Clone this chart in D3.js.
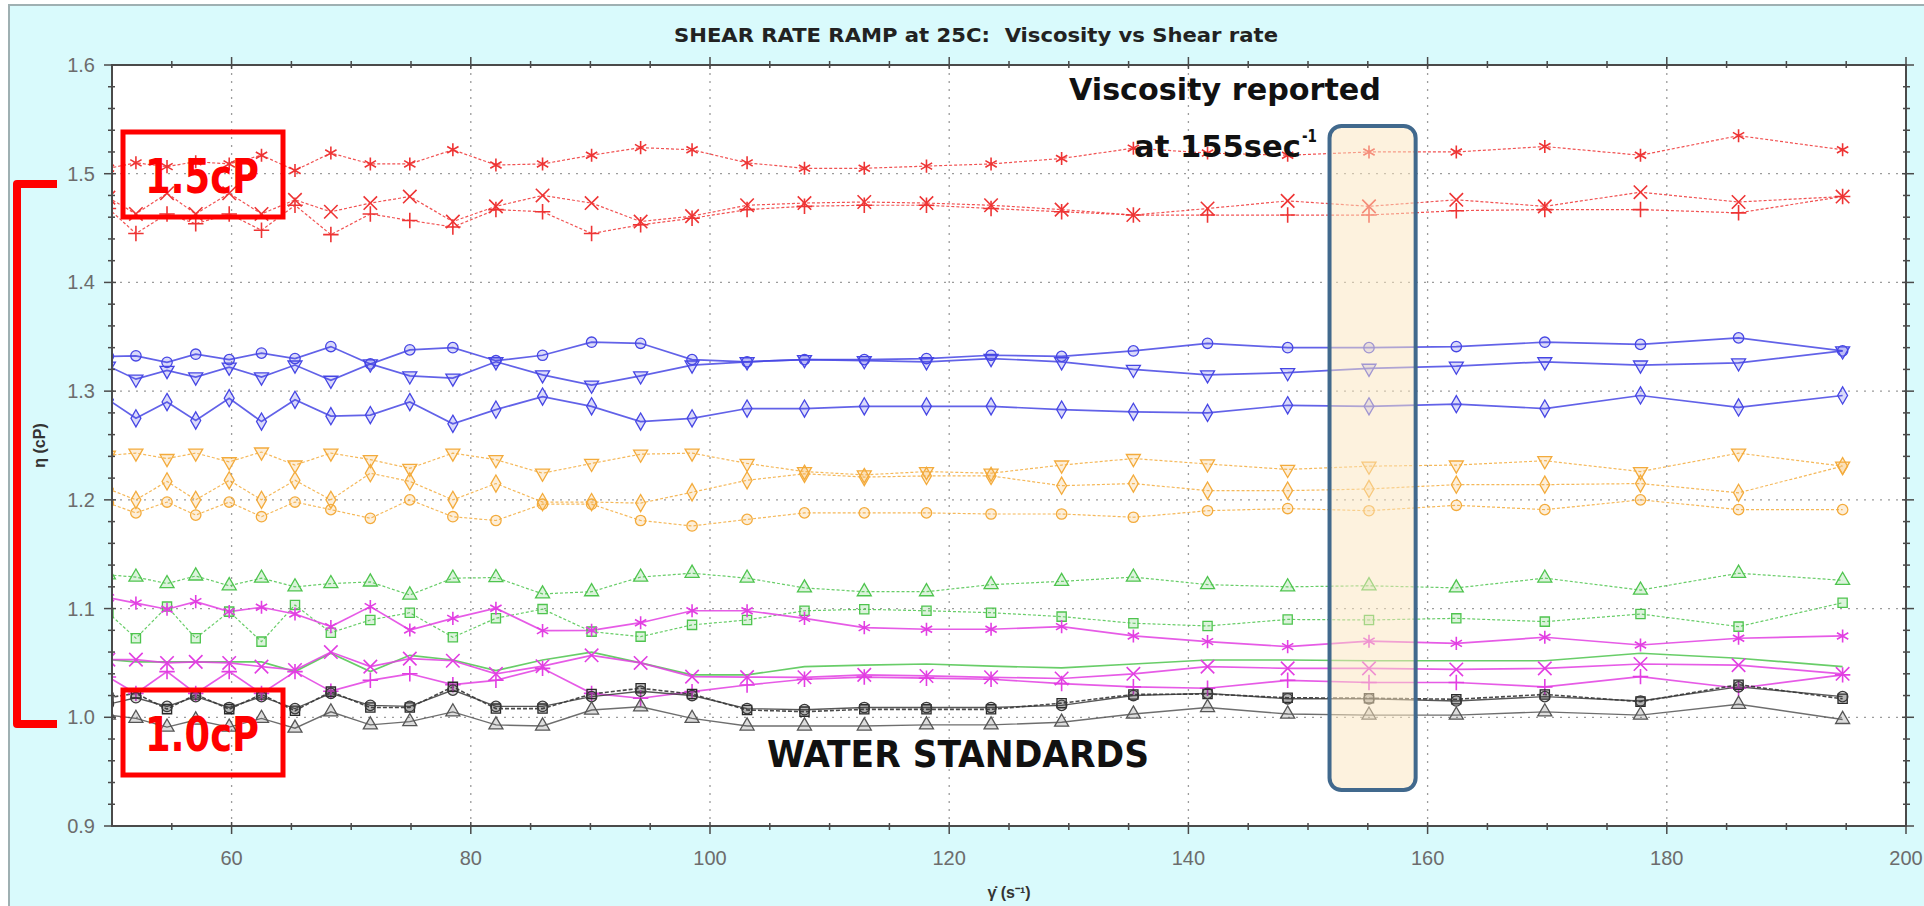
<!DOCTYPE html>
<html>
<head>
<meta charset="utf-8">
<title>Shear rate ramp at 25C</title>
<script src="https://cdn.jsdelivr.net/npm/d3@7"></script>
<style>
body { margin: 0; background: #fff; }
.tick-label { font: 20px "Liberation Sans", Arial, sans-serif; fill: #6c6c6c; }
.axis-title { font: bold 16px "Liberation Sans", Arial, sans-serif; fill: #333; }
.note { font-family: "Liberation Sans Narrow", "DejaVu Sans Condensed", "Liberation Sans", sans-serif; font-weight: bold; white-space: pre; }
</style>
</head>
<body>
<script>
// shear rate (1/s) of each measured point, the first one sits just left of the axis
var shearRate = [49.7, 52.0, 54.6, 57.0, 59.8, 62.5, 65.3, 68.3, 71.6, 74.9, 78.5, 82.1, 86.0, 90.1, 94.2, 98.5,
  103.1, 107.9, 112.9, 118.1, 123.5, 129.4, 135.4, 141.6, 148.3, 155.1, 162.4, 169.8, 177.8, 186.0, 194.7];

// viscosity (cP)
var redStar = [1.505, 1.510, 1.5065, 1.511, 1.509, 1.517, 1.503, 1.519, 1.509, 1.509, 1.522, 1.508, 1.509, 1.517, 1.524, 1.522,
  1.510, 1.505, 1.505, 1.507, 1.509, 1.514, 1.5235, 1.519, 1.517, 1.520, 1.520, 1.525, 1.517, 1.535, 1.522];
var redX = [1.478, 1.463, 1.482, 1.463, 1.482, 1.463, 1.476, 1.465, 1.473, 1.479, 1.456, 1.470, 1.480, 1.473, 1.456, 1.461,
  1.471, 1.473, 1.474, 1.473, 1.471, 1.467, 1.462, 1.468, 1.475, 1.470, 1.476, 1.470, 1.483, 1.474, 1.479];
var redPlus = [1.468, 1.445, 1.463, 1.454, 1.463, 1.448, 1.471, 1.444, 1.463, 1.457, 1.451, 1.467, 1.465, 1.445, 1.453, 1.459,
  1.467, 1.470, 1.471, 1.471, 1.468, 1.465, 1.462, 1.462, 1.462, 1.462, 1.466, 1.467, 1.467, 1.464, 1.479];

var blueCircle = [1.332, 1.3325, 1.3265, 1.334, 1.329, 1.335, 1.330, 1.341, 1.325, 1.338, 1.340, 1.328, 1.333, 1.345, 1.344, 1.329,
  1.327, 1.329, 1.329, 1.330, 1.333, 1.332, 1.337, 1.344, 1.340, 1.340, 1.341, 1.345, 1.343, 1.349, 1.337];
var blueTri = [1.323, 1.311, 1.319, 1.313, 1.322, 1.313, 1.324, 1.310, 1.325, 1.314, 1.312, 1.327, 1.315, 1.3055, 1.314, 1.324,
  1.327, 1.329, 1.328, 1.327, 1.330, 1.327, 1.320, 1.315, 1.317, 1.321, 1.323, 1.327, 1.324, 1.326, 1.337];
var blueDiamond = [1.292, 1.275, 1.290, 1.273, 1.2935, 1.272, 1.292, 1.277, 1.278, 1.290, 1.270, 1.283, 1.295, 1.286, 1.272, 1.275,
  1.284, 1.284, 1.286, 1.286, 1.286, 1.283, 1.281, 1.280, 1.287, 1.286, 1.288, 1.284, 1.296, 1.285, 1.296];

var orangeTri = [1.241, 1.243, 1.238, 1.243, 1.235, 1.244, 1.232, 1.243, 1.237, 1.229, 1.243, 1.237, 1.2245, 1.2335, 1.242, 1.243,
  1.2335, 1.226, 1.223, 1.226, 1.2245, 1.232, 1.238, 1.233, 1.228, 1.231, 1.232, 1.236, 1.226, 1.243, 1.231];
var orangeDiamond = [1.210, 1.200, 1.217, 1.200, 1.218, 1.200, 1.218, 1.200, 1.2245, 1.217, 1.200, 1.215, 1.198, 1.198, 1.197, 1.207,
  1.218, 1.224, 1.221, 1.222, 1.222, 1.213, 1.215, 1.2085, 1.2085, 1.210, 1.214, 1.214, 1.215, 1.2065, 1.231];
var orangeCircle = [1.197, 1.188, 1.198, 1.186, 1.198, 1.1845, 1.198, 1.191, 1.183, 1.200, 1.1845, 1.181, 1.196, 1.196, 1.181, 1.176,
  1.182, 1.188, 1.188, 1.188, 1.187, 1.187, 1.184, 1.190, 1.192, 1.190, 1.195, 1.191, 1.200, 1.191, 1.191];

var greenTri = [1.131, 1.129, 1.123, 1.130, 1.121, 1.128, 1.120, 1.123, 1.1245, 1.1125, 1.128, 1.1285, 1.1135, 1.1155, 1.129, 1.1325,
  1.128, 1.119, 1.1155, 1.1155, 1.122, 1.125, 1.129, 1.122, 1.120, 1.121, 1.119, 1.128, 1.117, 1.1325, 1.126];
var greenSquare = [1.096, 1.0727, 1.1018, 1.0727, 1.0972, 1.0696, 1.1033, 1.0778, 1.0895, 1.0962, 1.0736, 1.0911, 1.0995, 1.0788, 1.0742, 1.085,
  1.0895, 1.098, 1.0993, 1.098, 1.0962, 1.0926, 1.0865, 1.084, 1.090, 1.0895, 1.091, 1.088, 1.095, 1.0834, 1.1054];
var greenPlain = [1.053, 1.051, 1.051, 1.051, 1.051, 1.051, 1.042, 1.059, 1.042, 1.057, 1.0527, 1.043, 1.0527, 1.060, 1.050, 1.039,
  1.039, 1.0466, 1.048, 1.049, 1.047, 1.0455, 1.049, 1.0527, 1.0527, 1.052, 1.052, 1.052, 1.0589, 1.0543, 1.0466];

var magentaStar = [1.110, 1.105, 1.0994, 1.1064, 1.0972, 1.1012, 1.095, 1.0834, 1.1018, 1.0803, 1.091, 1.1003, 1.0797, 1.080, 1.087, 1.098,
  1.098, 1.091, 1.0825, 1.081, 1.081, 1.0834, 1.0748, 1.0696, 1.065, 1.070, 1.068, 1.0736, 1.0665, 1.0727, 1.0748];
var magentaX = [1.053, 1.053, 1.050, 1.051, 1.050, 1.0466, 1.0435, 1.060, 1.0466, 1.054, 1.052, 1.040, 1.047, 1.057, 1.050, 1.0374,
  1.037, 1.0368, 1.039, 1.038, 1.0368, 1.0357, 1.040, 1.0466, 1.045, 1.045, 1.044, 1.045, 1.049, 1.048, 1.040];
var magentaPlus = [1.037, 1.022, 1.042, 1.022, 1.042, 1.022, 1.042, 1.024, 1.034, 1.040, 1.030, 1.034, 1.045, 1.022, 1.0175, 1.0236,
  1.0297, 1.035, 1.037, 1.036, 1.035, 1.031, 1.028, 1.0267, 1.034, 1.032, 1.032, 1.028, 1.0374, 1.0267, 1.039];

var blackSquare = [1.018, 1.022, 1.0075, 1.021, 1.0075, 1.021, 1.006, 1.0236, 1.009, 1.009, 1.028, 1.008, 1.008, 1.0214, 1.0267, 1.0214,
  1.0067, 1.0052, 1.0073, 1.0073, 1.0073, 1.013, 1.021, 1.0214, 1.018, 1.0175, 1.0166, 1.021, 1.0144, 1.030, 1.017];
var blackCircle = [1.012, 1.018, 1.010, 1.019, 1.009, 1.019, 1.008, 1.022, 1.011, 1.010, 1.025, 1.010, 1.010, 1.019, 1.024, 1.020,
  1.008, 1.007, 1.009, 1.009, 1.009, 1.011, 1.020, 1.022, 1.017, 1.017, 1.015, 1.019, 1.015, 1.028, 1.019];
var blackTri = [1.002, 0.999, 0.991, 0.9975, 0.991, 0.999, 0.990, 1.005, 0.993, 0.996, 1.005, 0.993, 0.992, 1.0067, 1.0097, 0.999,
  0.992, 0.992, 0.992, 0.993, 0.993, 0.9955, 1.003, 1.009, 1.003, 1.002, 1.002, 1.005, 1.002, 1.012, 0.998];

// axis ticks
var xMajor = [60, 80, 100, 120, 140, 160, 180, 200];
var yMajor = [0.9, 1.0, 1.1, 1.2, 1.3, 1.4, 1.5, 1.6];

// how each run is drawn
var series = [
  { v: redStar,      color: "#ee3434", dash: "3,2", w: 1.2, mk: "asterisk" },
  { v: redX,         color: "#ee3434", dash: "3,2", w: 1.2, mk: "times" },
  { v: redPlus,      color: "#ee3434", dash: "3,2", w: 1.2, mk: "plus" },
  { v: blueCircle,   color: "#4646e4", dash: null,  w: 1.7, mk: "circle" },
  { v: blueTri,      color: "#4646e4", dash: null,  w: 1.7, mk: "triDown" },
  { v: blueDiamond,  color: "#4646e4", dash: null,  w: 1.7, mk: "diamond" },
  { v: orangeTri,    color: "#f3ab3c", dash: "3,2", w: 1.2, mk: "triDown" },
  { v: orangeDiamond,color: "#f3ab3c", dash: "3,2", w: 1.2, mk: "diamond" },
  { v: orangeCircle, color: "#f3ab3c", dash: "3,2", w: 1.2, mk: "circle" },
  { v: greenTri,     color: "#4ec44e", dash: "3,2", w: 1.2, mk: "triUp" },
  { v: greenSquare,  color: "#4ec44e", dash: "3,2", w: 1.2, mk: "square" },
  { v: greenPlain,   color: "#4ec44e", dash: null,  w: 1.7, mk: null },
  { v: magentaStar,  color: "#e23ee2", dash: null,  w: 1.7, mk: "asterisk" },
  { v: magentaX,     color: "#e23ee2", dash: null,  w: 1.7, mk: "times" },
  { v: magentaPlus,  color: "#e23ee2", dash: null,  w: 1.7, mk: "plus" },
  { v: blackSquare,  color: "#2a2a2a", dash: "4,2", w: 1.6, mk: "square" },
  { v: blackCircle,  color: "#3a3a3a", dash: null,  w: 1.4, mk: "circle" },
  { v: blackTri,     color: "#555555", dash: null,  w: 1.4, mk: "triUp" }
];

var W = 1924, H = 906;
var plotL = 112, plotR = 1906, plotT = 65, plotB = 826;

var x = d3.scaleLinear().domain([50, 200]).range([plotL, plotR]);
var y = d3.scaleLinear().domain([0.9, 1.6]).range([plotB, plotT]);

var svg = d3.select("body").append("svg")
  .attr("width", W)
  .attr("height", H);

// window background
svg.append("rect").attr("x", 9).attr("y", 5).attr("width", W).attr("height", H)
  .attr("fill", "#d9fafc").attr("stroke", "#9fb0b2").attr("stroke-width", 2);

svg.append("text").attr("class", "note")
  .attr("x", 674).attr("y", 42)
  .attr("textLength", 604).attr("lengthAdjust", "spacingAndGlyphs")
  .style("font-size", "19px").style("fill", "#222")
  .text("SHEAR RATE RAMP at 25C:  Viscosity vs Shear rate");

svg.append("rect").attr("x", plotL).attr("y", plotT)
  .attr("width", plotR - plotL).attr("height", plotB - plotT)
  .attr("fill", "#fff");

svg.append("clipPath").attr("id", "plotclip")
  .append("rect").attr("x", plotL).attr("y", plotT)
  .attr("width", plotR - plotL).attr("height", plotB - plotT);

// dotted grid
var grid = svg.append("g").attr("stroke", "#9c9c9c").attr("stroke-width", 1.3)
  .attr("stroke-dasharray", "2,6");
grid.selectAll(".gx").data(xMajor.slice(0, -1)).enter().append("line")
  .attr("x1", d => x(d)).attr("x2", d => x(d)).attr("y1", plotT).attr("y2", plotB);
grid.selectAll(".gy").data(yMajor.slice(1, -1)).enter().append("line")
  .attr("x1", plotL).attr("x2", plotR).attr("y1", d => y(d)).attr("y2", d => y(d));

// data
var plot = svg.append("g").attr("clip-path", "url(#plotclip)");
var line = d3.line().x((d, i) => x(shearRate[i])).y(d => y(d));

var shapes = {
  asterisk: d3.symbol(d3.symbolAsterisk, 120),
  times: d3.symbol(d3.symbolTimes, 120),
  plus: d3.symbol(d3.symbolPlus, 80),
  circle: d3.symbol(d3.symbolCircle, 85),
  square: d3.symbol(d3.symbolSquare, 85),
  triUp: d3.symbol(d3.symbolTriangle, 85),
  triDown: d3.symbol(d3.symbolTriangle, 85),
  diamond: d3.symbol(d3.symbolDiamond, 85)
};
var strokeOnly = { asterisk: 1, times: 1, plus: 1 };

series.forEach(function (s) {
  plot.append("path").datum(s.v)
    .attr("d", line)
    .attr("fill", "none")
    .attr("stroke", s.color)
    .attr("stroke-width", s.w)
    .attr("stroke-dasharray", s.dash)
    .attr("stroke-opacity", 0.85);
});

series.forEach(function (s) {
  if (!s.mk) return;
  plot.selectAll(null).data(s.v).enter().append("path")
    .attr("d", shapes[s.mk])
    .attr("transform", (d, i) => "translate(" + x(shearRate[i]) + "," + y(d) + ")" + (s.mk == "triDown" ? " rotate(180)" : ""))
    .attr("fill", strokeOnly[s.mk] ? "none" : s.color)
    .attr("fill-opacity", 0.2)
    .attr("stroke", s.color)
    .attr("stroke-width", strokeOnly[s.mk] ? 1.6 : 1.3);
});

// frame and ticks on all four sides
var axis = svg.append("g").attr("stroke", "#4a4a4a");
axis.append("rect").attr("x", plotL).attr("y", plotT)
  .attr("width", plotR - plotL).attr("height", plotB - plotT)
  .attr("fill", "none").attr("stroke-width", 2);

var xMinor = d3.range(55, 200, 5).filter(d => d % 20 != 0);
var yMinor = d3.range(0, 36).map(i => 0.9 + i * 0.02).filter(d => Math.round(d * 100) % 10 != 0);

function xTicks(vals, outLen, inLen) {
  vals.forEach(function (d) {
    axis.append("line").attr("x1", x(d)).attr("x2", x(d)).attr("y1", plotB - inLen).attr("y2", plotB + outLen).attr("stroke-width", 1.5);
    axis.append("line").attr("x1", x(d)).attr("x2", x(d)).attr("y1", plotT + inLen).attr("y2", plotT - outLen).attr("stroke-width", 1.5);
  });
}
function yTicks(vals, outLen, inLen) {
  vals.forEach(function (d) {
    axis.append("line").attr("y1", y(d)).attr("y2", y(d)).attr("x1", plotL + inLen).attr("x2", plotL - outLen).attr("stroke-width", 1.5);
    axis.append("line").attr("y1", y(d)).attr("y2", y(d)).attr("x1", plotR - inLen).attr("x2", plotR + outLen).attr("stroke-width", 1.5);
  });
}
xTicks(xMajor, 8, 4);
xTicks(xMinor, 4, 3);
yTicks(yMajor, 8, 4);
yTicks(yMinor, 4, 3);

svg.selectAll(".xl").data(xMajor).enter().append("text")
  .attr("class", "tick-label")
  .attr("x", d => x(d)).attr("y", 865)
  .attr("text-anchor", "middle")
  .text(d => d);
svg.selectAll(".yl").data(yMajor).enter().append("text")
  .attr("class", "tick-label")
  .attr("x", 95).attr("y", d => y(d) + 7)
  .attr("text-anchor", "end")
  .text(d => d3.format(".1f")(d));

svg.append("text").attr("class", "axis-title")
  .attr("x", (plotL + plotR) / 2).attr("y", 898)
  .attr("text-anchor", "middle")
  .text("γ̇ (s⁻¹)");
svg.append("text").attr("class", "axis-title")
  .attr("transform", "translate(45," + (plotT + plotB) / 2 + ") rotate(-90)")
  .attr("text-anchor", "middle")
  .text("η (cP)");

// highlight at 155 1/s
svg.append("rect")
  .attr("x", x(151.8)).attr("y", y(1.544))
  .attr("width", x(159.0) - x(151.8)).attr("height", y(0.933) - y(1.544))
  .attr("rx", 12)
  .attr("fill", "#fce6bd").attr("fill-opacity", 0.5)
  .attr("stroke", "#41698d").attr("stroke-width", 4);

// red call-outs
svg.append("path")
  .attr("d", "M57,184 H17 V724 H57")
  .attr("fill", "none").attr("stroke", "#ff0000").attr("stroke-width", 8)
  .attr("stroke-linejoin", "round");

[[132, "1.5cP", 193], [690, "1.0cP", 751]].forEach(function (b) {
  svg.append("rect").attr("x", 123).attr("y", b[0]).attr("width", 160).attr("height", 85)
    .attr("fill", "none").attr("stroke", "#ff0000").attr("stroke-width", 5);
  svg.append("text").attr("class", "note")
    .attr("x", 145).attr("y", b[2])
    .attr("textLength", 114).attr("lengthAdjust", "spacingAndGlyphs")
    .style("font-size", "48px").style("fill", "#ff0000")
    .text(b[1]);
});

svg.append("text").attr("class", "note")
  .attr("x", 1069).attr("y", 100)
  .attr("textLength", 312).attr("lengthAdjust", "spacingAndGlyphs")
  .style("font-size", "31px").style("fill", "#111")
  .text("Viscosity reported");
svg.append("text").attr("class", "note")
  .attr("x", 1134).attr("y", 157)
  .attr("textLength", 167).attr("lengthAdjust", "spacingAndGlyphs")
  .style("font-size", "31px").style("fill", "#111")
  .text("at 155sec");
svg.append("text").attr("class", "note")
  .attr("x", 1302).attr("y", 142)
  .attr("textLength", 15).attr("lengthAdjust", "spacingAndGlyphs")
  .style("font-size", "17px").style("fill", "#111")
  .text("-1");

svg.append("text").attr("class", "note")
  .attr("x", 767).attr("y", 767)
  .attr("textLength", 382).attr("lengthAdjust", "spacingAndGlyphs")
  .style("font-size", "37px").style("fill", "#111")
  .text("WATER STANDARDS");
</script>
</body>
</html>
